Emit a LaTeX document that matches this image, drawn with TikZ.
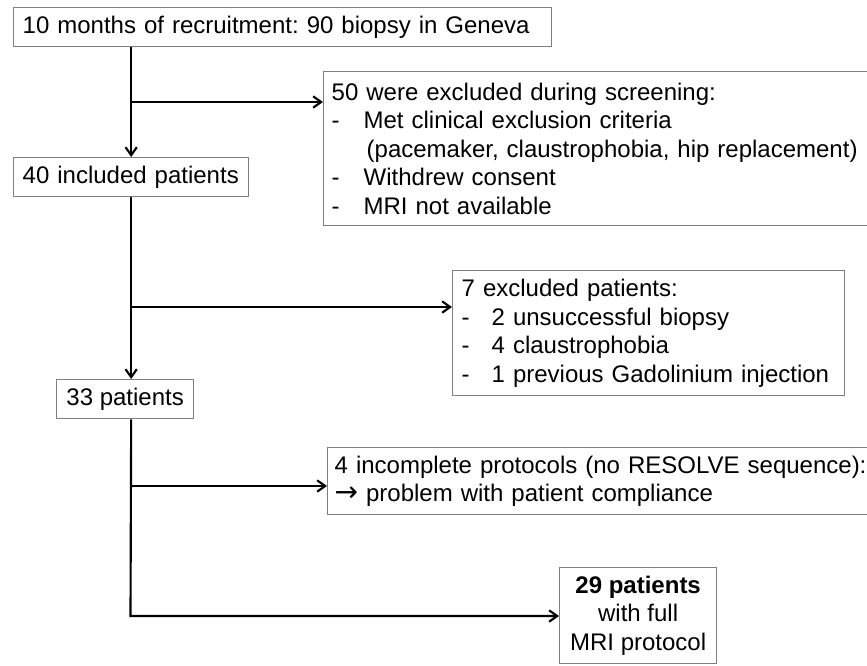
\documentclass[tikz,border=0pt]{standalone}
\usepackage{fontspec}
\setmainfont{Liberation Sans}
\newfontfamily\symfnt{DejaVu Sans}
\usetikzlibrary{arrows.meta}
\definecolor{boxgray}{RGB}{128,128,128}
\frenchspacing
\begin{document}
\begin{tikzpicture}[x=0.75pt,y=-0.75pt,
  box/.style={draw=boxgray, line width=1pt, rectangle, anchor=north west, inner sep=0pt,
              font=\fontsize{18pt}{21.45pt}\selectfont\frenchspacing},
  arr/.style={line width=1.6pt, -{Straight Barb[length=6pt,width=8.5pt]}}]
\useasboundingbox (0,0) rectangle (867,665);

\node[box, minimum width=403.5pt, minimum height=29.25pt, text width=390pt, align=left] (n1) at (13,7)
  {10 months of recruitment: 90 biopsy in Geneva};

\node[box, minimum width=176.25pt, minimum height=29.25pt, text width=162.75pt, align=left] (n2) at (13,157)
  {40 included patients};

\node[box, minimum width=417.75pt, minimum height=115.5pt, text width=405.75pt, align=left] (n3) at (323,71)
  {50 were excluded during screening:\\
   \makebox[24pt][l]{-}Met clinical exclusion criteria\\
   \hspace*{26.25pt}(pacemaker, claustrophobia, hip replacement)\\
   \makebox[24pt][l]{-}Withdrew consent\\
   \makebox[24pt][l]{-}MRI not available};

\node[box, minimum width=294pt, minimum height=93.75pt, text width=280.5pt, align=left] (n4) at (452,270)
  {7 excluded patients:\\
   \makebox[22.5pt][l]{-}2 unsuccessful biopsy\\
   \makebox[22.5pt][l]{-}4 claustrophobia\\
   \makebox[22.5pt][l]{-}1 previous Gadolinium injection};

\node[box, minimum width=102.75pt, minimum height=29.25pt, align=center] (n5) at (56,379)
  {33 patients};

\node[box, minimum width=414.75pt, minimum height=50.25pt, text width=404.25pt, align=left] (n6) at (327,447)
  {4 incomplete protocols (no RESOLVE sequence):\\
   {\symfnt\fontsize{21pt}{21.45pt}\selectfont →} problem with patient compliance};

\node[box, minimum width=117.75pt, minimum height=72pt, align=center] (n7) at (559,567)
  {\textbf{29 patients}\\with full\\MRI protocol};

\coordinate (c1) at (130.5,102);
\coordinate (c2) at (130.5,307);
\coordinate (c3) at (130.5,486);
\coordinate (c4) at (130.5,616);

\draw[arr] (n1.south -| n2.north) -- (n2.north);
\draw[arr] (c1) -- (c1 -| n3.west);
\draw[arr] (n2.south) -- (n2.south |- n5.north);
\draw[arr] (c2) -- (c2 -| n4.west);
\draw[arr] (n2.south |- n5.south) -- (c4) -- (c4 -| n7.west);
\draw[arr] (c3) -- (c3 -| n6.west);
\end{tikzpicture}
\end{document}
